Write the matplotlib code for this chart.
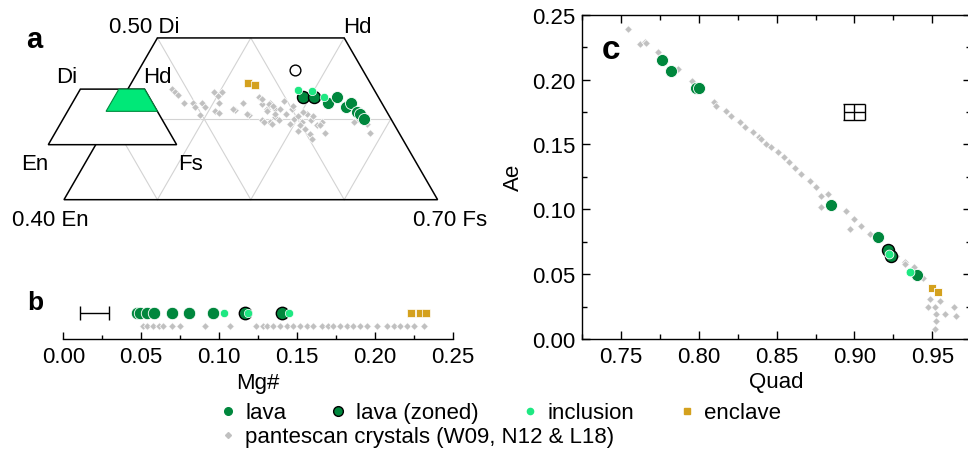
import numpy as np
import matplotlib
matplotlib.use('Agg')
import matplotlib.pyplot as plt
from matplotlib.lines import Line2D
from matplotlib.patches import Polygon
from matplotlib.ticker import MultipleLocator, FormatStrFormatter

plt.rcParams['font.family'] = ['Liberation Sans', 'DejaVu Sans']
plt.rcParams['font.size'] = 16

LAVA = '#00873d'
INCL = '#1ee882'
ENCL = '#d4a11e'
GREY = '#c0c0c0'

# ---- panel a: pyroxene compositions as (Wo, Fs) fractions
a_lava_wo = [0.420, 0.427, 0.414, 0.419, 0.409, 0.406, 0.400]
a_lava_fs = [0.523, 0.529, 0.545, 0.548, 0.559, 0.564, 0.571]
a_zoned_wo = [0.427, 0.427]
a_zoned_fs = [0.492, 0.504]
a_incl_wo = [0.436, 0.434, 0.427]
a_incl_fs = [0.483, 0.499, 0.515]
a_encl_wo = [0.444, 0.442]
a_encl_fs = [0.425, 0.434]
a_pant_wo = [0.437, 0.433, 0.429, 0.420, 0.420, 0.415, 0.419, 0.414, 0.405, 0.433,
             0.433, 0.419, 0.410, 0.407, 0.411, 0.420, 0.405, 0.427, 0.418, 0.412,
             0.419, 0.412, 0.399, 0.396, 0.402, 0.398, 0.425, 0.418, 0.416, 0.410,
             0.406, 0.412, 0.422, 0.406, 0.412, 0.400, 0.404, 0.396, 0.406, 0.398,
             0.404, 0.392, 0.396, 0.387, 0.381, 0.385, 0.400, 0.383, 0.393, 0.394,
             0.394, 0.428, 0.412, 0.406, 0.396, 0.375, 0.416, 0.408, 0.392, 0.392,
             0.383, 0.396]
a_pant_fs = [0.347, 0.352, 0.358, 0.368, 0.378, 0.383, 0.388, 0.394, 0.393, 0.394,
             0.403, 0.406, 0.407, 0.412, 0.428, 0.432, 0.446, 0.445, 0.453, 0.461,
             0.461, 0.470, 0.463, 0.473, 0.475, 0.481, 0.450, 0.460, 0.466, 0.462,
             0.473, 0.475, 0.475, 0.485, 0.488, 0.496, 0.499, 0.507, 0.507, 0.515,
             0.515, 0.525, 0.528, 0.514, 0.523, 0.508, 0.565, 0.586, 0.578, 0.476,
             0.495, 0.401, 0.425, 0.443, 0.466, 0.528, 0.487, 0.502, 0.528, 0.507,
             0.538, 0.562]
a_err_wo = [0.460]
a_err_fs = [0.467]

# ---- panel b: Mg#
b_lava = [0.047, 0.049, 0.0535, 0.058, 0.070, 0.0805, 0.096]
b_zoned = [0.1167, 0.1403]
b_incl = [0.1032, 0.1188, 0.1447]
b_encl = [0.223, 0.229, 0.233]
b_pant = [0.0514, 0.0535, 0.0578, 0.0617, 0.0642, 0.0696, 0.0750, 0.0910, 0.1071,
          0.1238, 0.1285, 0.1306, 0.1349, 0.1392, 0.1435, 0.1477, 0.1520, 0.1563,
          0.1606, 0.1659, 0.1702, 0.1734, 0.1777, 0.1820, 0.1863, 0.1906, 0.1948,
          0.2013, 0.2077, 0.2120, 0.2163, 0.2206, 0.2249, 0.2313]
b_err_x = 0.020
b_err = 0.0094

# ---- panel c: Quad vs Ae
c_lava_q = [0.776, 0.782, 0.798, 0.800, 0.885, 0.915, 0.940]
c_lava_ae = [0.2154, 0.2063, 0.1935, 0.1933, 0.1030, 0.0784, 0.0493]
c_zoned_q = [0.9215, 0.9236]
c_zoned_ae = [0.0684, 0.0640]
c_incl_q = [0.9225, 0.9355]
c_incl_ae = [0.0655, 0.0517]
c_encl_q = [0.9500, 0.9536]
c_encl_ae = [0.0391, 0.0365]
c_pant_q = [0.7543, 0.7618, 0.7650, 0.7661, 0.7735, 0.7864, 0.7957, 0.8100, 0.8111,
            0.8175, 0.8207, 0.8261, 0.8299, 0.8346, 0.8389, 0.8400, 0.8432, 0.8465,
            0.8507, 0.8550, 0.8582, 0.8615, 0.8658, 0.8711, 0.8754, 0.8786, 0.8829,
            0.8786, 0.8947, 0.9000, 0.9043, 0.8973, 0.9097, 0.9268, 0.9322, 0.9328,
            0.9386, 0.9440, 0.9483, 0.9472, 0.9515, 0.9547, 0.9526, 0.9579, 0.9643,
            0.9654, 0.9526, 0.9521]
c_pant_ae = [0.2390, 0.2274, 0.2288, 0.2282, 0.2210, 0.2082, 0.1992, 0.1825, 0.1799,
             0.1760, 0.1722, 0.1671, 0.1632, 0.1593, 0.1555, 0.1542, 0.1503, 0.1478,
             0.1439, 0.1401, 0.1362, 0.1316, 0.1272, 0.1221, 0.1170, 0.1105, 0.1118,
             0.1015, 0.0989, 0.0925, 0.0874, 0.0848, 0.0810, 0.0642, 0.0591, 0.0578,
             0.0553, 0.0468, 0.0308, 0.0244, 0.0244, 0.0295, 0.0193, 0.0193, 0.0244,
             0.0180, 0.0141, 0.0077]
c_err_q = 0.900
c_err_ae = 0.175
c_err_dq = 0.007
c_err_dae = 0.0065

W, H = 968, 452
SQ3 = np.sqrt(3) / 2


def to_main(wo, fs):
    """ternary (Wo, Fs) -> zoomed quadrilateral coordinates"""
    wo = np.asarray(wo, float)
    fs = np.asarray(fs, float)
    return (fs + wo / 2 - 0.45) / 0.1, (wo - 0.3) * SQ3 / 0.1


def to_inset(wo, fs):
    """ternary (Wo, Fs) -> small full quadrilateral"""
    wo = np.asarray(wo, float)
    fs = np.asarray(fs, float)
    return -0.168 + 1.374 * (fs + wo / 2), 0.589 + 1.374 * wo * SQ3


def ftext(fig, px, py, s, **kw):
    fig.text(px / W, 1 - py / H, s, **kw)


def grey_pts(ax, x, y):
    ax.scatter(x, y, marker='D', s=15, c=GREY, ec='white', lw=0.5, zorder=5)


def panel_a(fig):
    ax = fig.add_axes([0, 1 - 240 / H, 500 / W, 240 / H])
    ax.set_xlim(-0.685, 4.668)
    ax.set_ylim(-0.421, 2.149)
    ax.axis('off')

    # grid lines (Wo, Fs end points)
    grid = [((0.4, 0.3), (0.4, 0.6)),
            ((0.3, 0.4), (0.5, 0.4)), ((0.3, 0.5), (0.5, 0.5)), ((0.3, 0.6), (0.4, 0.6)),
            ((0.3, 0.6), (0.5, 0.4)), ((0.3, 0.5), (0.5, 0.3)), ((0.3, 0.4), (0.4, 0.3))]
    for p, q in grid:
        x, y = to_main([p[0], q[0]], [p[1], q[1]])
        ax.plot(x, y, color='#d3d3d3', lw=0.8, zorder=1)

    quad = ([0.3, 0.3, 0.5, 0.5], [0.3, 0.7, 0.5, 0.3])
    x, y = to_main(*quad)
    ax.add_patch(Polygon(np.c_[x, y], closed=True, fill=False, ec='black', lw=1.1, zorder=2))

    # inset with the full Di-Hd-En-Fs quadrilateral
    x, y = to_inset([0.0, 0.0, 0.5, 0.5], [0.0, 1.0, 0.5, 0.0])
    ax.add_patch(Polygon(np.c_[x, y], closed=True, fc='white', ec='black', lw=1.1, zorder=3))
    x, y = to_inset(*quad)
    ax.add_patch(Polygon(np.c_[x, y], closed=True, fc='#00e878', ec='#008a3e', lw=0.8, zorder=4))

    grey_pts(ax, *to_main(a_pant_wo, a_pant_fs))
    x, y = to_main(a_lava_wo, a_lava_fs)
    ax.scatter(x, y, s=75, c=LAVA, ec='white', lw=0.6, zorder=6)
    x, y = to_main(a_zoned_wo, a_zoned_fs)
    ax.scatter(x, y, s=75, c=LAVA, ec='black', lw=1.0, zorder=7)
    x, y = to_main(a_incl_wo, a_incl_fs)
    ax.scatter(x, y, s=36, c=INCL, ec='white', lw=0.5, zorder=8)
    x, y = to_main(a_encl_wo, a_encl_fs)
    ax.scatter(x, y, marker='s', s=36, c=ENCL, ec='white', lw=0.5, zorder=8)
    x, y = to_main(a_err_wo, a_err_fs)
    ax.scatter(x, y, s=60, facecolors='white', edgecolors='black', lw=1.0, zorder=8)

    ftext(fig, 144, 33, '0.50 Di', ha='center', va='baseline')
    ftext(fig, 357, 33, 'Hd', ha='center', va='baseline')
    ftext(fig, 67, 83, 'Di', ha='center', va='baseline')
    ftext(fig, 157, 83, 'Hd', ha='center', va='baseline')
    ftext(fig, 35, 170, 'En', ha='center', va='baseline')
    ftext(fig, 190, 170, 'Fs', ha='center', va='baseline')
    ftext(fig, 50, 226, '0.40 En', ha='center', va='baseline')
    ftext(fig, 450, 226, '0.70 Fs', ha='center', va='baseline')
    ftext(fig, 34, 48, 'a', ha='center', va='baseline', fontsize=21, fontweight='bold')


def panel_b(fig):
    ax = fig.add_axes([63.3 / W, 1 - 340 / H, 389.4 / W, 50 / H])
    ax.set_xlim(0, 0.25)
    ax.set_ylim(-0.98, 2.87)
    for side in ['left', 'right', 'top']:
        ax.spines[side].set_visible(False)
    ax.spines['bottom'].set_linewidth(1.0)
    ax.set_yticks([])
    ax.xaxis.set_major_locator(MultipleLocator(0.05))
    ax.xaxis.set_minor_locator(MultipleLocator(0.025))
    ax.xaxis.set_major_formatter(FormatStrFormatter('%.2f'))
    ax.tick_params(axis='x', which='major', direction='in', length=5, width=1, pad=5)
    ax.tick_params(axis='x', which='minor', direction='in', length=3, width=1)

    grey_pts(ax, b_pant, np.zeros(len(b_pant)))
    ax.scatter(b_lava, np.ones(len(b_lava)), s=80, c=LAVA, ec='white', lw=0.6, zorder=6)
    ax.scatter(b_zoned, np.ones(len(b_zoned)), s=80, c=LAVA, ec='black', lw=1.0, zorder=7)
    ax.scatter(b_incl, np.ones(len(b_incl)), s=36, c=INCL, ec='white', lw=0.5, zorder=8)
    ax.scatter(b_encl, np.ones(len(b_encl)), marker='s', s=36, c=ENCL, ec='white', lw=0.5, zorder=8)
    ax.errorbar([b_err_x], [1], xerr=b_err, fmt='none', ecolor='black', elinewidth=1, capsize=5, capthick=1)
    ax.set_xlabel('Mg#', labelpad=4)
    ax.patch.set_alpha(0)
    ftext(fig, 35, 310, 'b', ha='center', va='baseline', fontsize=19, fontweight='bold')


def panel_c(fig):
    ax = fig.add_axes([582.3 / W, 1 - 340 / H, 388.8 / W, 324.3 / H])
    ax.set_xlim(0.725, 0.975)
    ax.set_ylim(0, 0.25)
    for s in ax.spines.values():
        s.set_linewidth(1.0)
    ax.xaxis.set_major_locator(MultipleLocator(0.05))
    ax.xaxis.set_minor_locator(MultipleLocator(0.025))
    ax.yaxis.set_major_locator(MultipleLocator(0.05))
    ax.yaxis.set_minor_locator(MultipleLocator(0.025))
    ax.xaxis.set_major_formatter(FormatStrFormatter('%.2f'))
    ax.yaxis.set_major_formatter(FormatStrFormatter('%.2f'))
    ax.tick_params(which='both', direction='in', top=True, right=True, width=1)
    ax.tick_params(which='major', length=6, pad=5)
    ax.tick_params(which='minor', length=3.5)

    grey_pts(ax, c_pant_q, c_pant_ae)
    ax.scatter(c_lava_q, c_lava_ae, s=75, c=LAVA, ec='white', lw=0.6, zorder=6)
    ax.scatter(c_zoned_q, c_zoned_ae, s=75, c=LAVA, ec='black', lw=1.0, zorder=7)
    ax.scatter(c_incl_q, c_incl_ae, s=40, c=INCL, ec='white', lw=0.6, zorder=8)
    ax.scatter(c_encl_q, c_encl_ae, marker='s', s=40, c=ENCL, ec='white', lw=0.6, zorder=8)
    ax.errorbar([c_err_q], [c_err_ae], xerr=c_err_dq, fmt='none', ecolor='black',
                elinewidth=1, capsize=6, capthick=1)
    ax.errorbar([c_err_q], [c_err_ae], yerr=c_err_dae, fmt='none', ecolor='black',
                elinewidth=1, capsize=7.7, capthick=1)
    ax.set_xlabel('Quad', labelpad=3)
    ax.set_ylabel('Ae', labelpad=6)
    ftext(fig, 611, 59, 'c', ha='center', va='baseline', fontsize=24, fontweight='bold')


def legend(fig):
    h1 = [Line2D([], [], ls='', marker='o', ms=5.5, mfc=LAVA, mec=LAVA),
          Line2D([], [], ls='', marker='o', ms=7, mfc=LAVA, mec='black', mew=1),
          Line2D([], [], ls='', marker='o', ms=4.5, mfc=INCL, mec=INCL),
          Line2D([], [], ls='', marker='s', ms=5, mfc=ENCL, mec=ENCL)]
    lab1 = ['lava', 'lava (zoned)', 'inclusion', 'enclave']
    opts = dict(loc='center left', frameon=False, handlelength=1.0, handletextpad=0.27,
                columnspacing=1.85, borderpad=0, borderaxespad=0)
    fig.legend(h1, lab1, ncol=4, bbox_to_anchor=(216.9 / W, 1 - 414 / H), **opts)
    h2 = [Line2D([], [], ls='', marker='D', ms=3, mfc=GREY, mec=GREY)]
    fig.legend(h2, ['pantescan crystals (W09, N12 & L18)'],
               bbox_to_anchor=(216.9 / W, 1 - 438 / H), **opts)


def main():
    fig = plt.figure(figsize=(W / 100, H / 100), dpi=100)
    panel_a(fig)
    panel_b(fig)
    panel_c(fig)
    legend(fig)
    fig.savefig('out.png', dpi=100)


if __name__ == '__main__':
    main()
